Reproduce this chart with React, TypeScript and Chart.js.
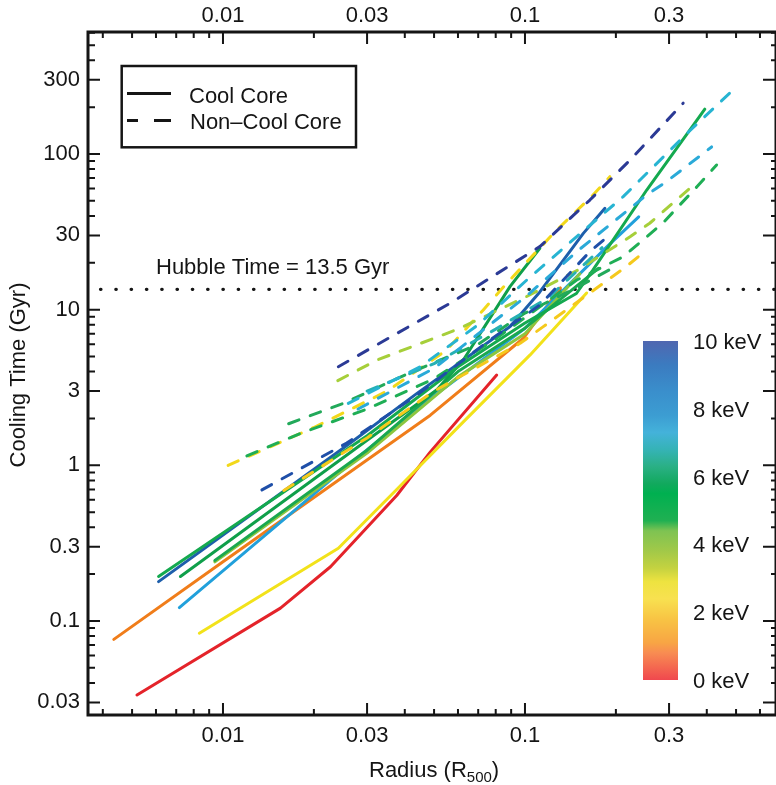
import React, { useEffect, useRef } from 'react';
import { Chart, registerables } from 'chart.js';

Chart.register(...registerables);

const FONT = "'Liberation Sans', Arial, sans-serif";
const INK = '#151515';

// Axis ranges
const X_MIN = 0.003573;
const X_MAX = 0.678;
const Y_MIN = 0.02489;
const Y_MAX = 607.7;

// Tick labels
const xTickValues = [0.01, 0.03, 0.1, 0.3];
const xTickLabels = ['0.01', '0.03', '0.1', '0.3'];
const yTickValues = [0.03, 0.1, 0.3, 1, 3, 10, 30, 100, 300];
const yTickLabels = ['0.03', '0.1', '0.3', '1', '3', '10', '30', '100', '300'];

// Hubble time
const hubbleTime = 13.5;
const hubbleR = [0.00393, 0.678];

// Colour bar ticks (keV)
const colorbarTicks = [0, 2, 4, 6, 8, 10];

// ---- Cool core (solid) profiles: radius (R500) and cooling time (Gyr)
const ccRedR = [0.00519, 0.0155, 0.0227, 0.0376, 0.0486, 0.0806];
const ccRedT = [0.0335, 0.121, 0.223, 0.64, 1.22, 3.8];
const ccOrangeR = [0.00435, 0.01, 0.0486, 0.0988, 0.131];
const ccOrangeT = [0.0762, 0.24, 2.1, 6.55, 13.8];
const ccYellowR = [0.00835, 0.0241, 0.0376, 0.0625, 0.104, 0.16];
const ccYellowT = [0.0834, 0.293, 0.7, 1.9, 5.12, 12.8];
const ccLightBlueR = [0.00717, 0.0264, 0.05, 0.1, 0.187, 0.238];
const ccLightBlueT = [0.122, 1.03, 2.8, 7.6, 25.4, 39.5];
const ccBlueR = [0.00612, 0.0264, 0.0439, 0.0893, 0.112, 0.156, 0.184];
const ccBlueT = [0.179, 1.39, 2.9, 7.8, 13, 30.9, 44.8];
const ccGreenLongR = [0.00612, 0.03, 0.06, 0.1, 0.148, 0.168, 0.253, 0.394];
const ccGreenLongT = [0.193, 1.55, 4.3, 8.2, 12.7, 18, 58.7, 194];
const ccGreenSteepR = [0.00723, 0.03, 0.051, 0.0625, 0.0893, 0.112];
const ccGreenSteepT = [0.193, 1.45, 3.05, 4.75, 14.1, 24.8];
const ccGreenShortR = [0.0094, 0.03, 0.06, 0.1, 0.175];
const ccGreenShortT = [0.245, 1.25, 4.0, 7.6, 18.4];
const ccLightGreenR = [0.0094, 0.03, 0.06, 0.1, 0.152];
const ccLightGreenT = [0.24, 1.2, 3.7, 7.0, 17];

// ---- Non-cool core (dashed) profiles
const nccNavyR = [0.0241, 0.0565, 0.112, 0.164, 0.223, 0.334];
const nccNavyT = [4.3, 11.0, 25.4, 50.6, 91.5, 212];
const nccBlueR = [0.01346, 0.0257, 0.0439, 0.075, 0.112, 0.164, 0.186];
const nccBlueT = [0.695, 1.39, 2.83, 6.2, 10.7, 23.6, 29];
const nccCyanLongR = [0.026, 0.045, 0.07, 0.1014, 0.15, 0.2115, 0.35, 0.508];
const nccCyanLongT = [2.5, 4.3, 8.0, 15.5, 30, 53.2, 140, 277];
const nccCyanR = [0.028, 0.05, 0.1, 0.15, 0.253, 0.294, 0.415];
const nccCyanT = [2.3, 4.2, 12, 24, 54.6, 66.4, 111];
const nccGreenR = [0.012, 0.018, 0.03, 0.05, 0.08, 0.1484, 0.2115, 0.2857, 0.371, 0.431];
const nccGreenT = [1.15, 1.6, 2.3, 3.6, 6.5, 15.5, 21.9, 35.9, 61.6, 85];
const nccLightGreenR = [0.024, 0.0324, 0.06, 0.1, 0.15, 0.2228, 0.2588, 0.352];
const nccLightGreenT = [3.5, 4.75, 7.5, 12, 18, 29.4, 35.9, 60.3];
const nccYellowUpperR = [0.0104, 0.02, 0.035, 0.055, 0.0729, 0.0871, 0.1274, 0.168, 0.191];
const nccYellowUpperT = [1.0, 1.75, 3.0, 5.5, 10, 14.8, 32.5, 54.5, 71.5];
const nccYellowLowerR = [0.0159, 0.03, 0.05, 0.0964, 0.115, 0.1818, 0.2164, 0.2527];
const nccYellowLowerT = [0.69, 1.5, 3.0, 6.08, 7.78, 14.8, 18.9, 24.2];
const nccGreen2R = [0.0165, 0.025, 0.04, 0.07, 0.1, 0.15, 0.2];
const nccGreen2T = [1.85, 2.5, 3.8, 6, 9.5, 14, 19];
const nccTealR = [0.03, 0.05, 0.08, 0.12, 0.18];
const nccTealT = [3.0, 4.5, 7.5, 12, 25];

type Series = { r: number[]; t: number[]; color: string; dashed: boolean };

const series: Series[] = [
  { r: nccNavyR, t: nccNavyT, color: '#2b3a95', dashed: true },
  { r: nccBlueR, t: nccBlueT, color: '#1f4fa8', dashed: true },
  { r: nccCyanLongR, t: nccCyanLongT, color: '#27b4d2', dashed: true },
  { r: nccCyanR, t: nccCyanT, color: '#2aaad8', dashed: true },
  { r: nccTealR, t: nccTealT, color: '#26b0b4', dashed: true },
  { r: nccGreenR, t: nccGreenT, color: '#1fae55', dashed: true },
  { r: nccGreen2R, t: nccGreen2T, color: '#22a95a', dashed: true },
  { r: nccLightGreenR, t: nccLightGreenT, color: '#a6cf3a', dashed: true },
  { r: nccYellowUpperR, t: nccYellowUpperT, color: '#f2d81a', dashed: true },
  { r: nccYellowLowerR, t: nccYellowLowerT, color: '#f5c91c', dashed: true },
  { r: ccGreenLongR, t: ccGreenLongT, color: '#14a94f', dashed: false },
  { r: ccGreenSteepR, t: ccGreenSteepT, color: '#0f9f4a', dashed: false },
  { r: ccGreenShortR, t: ccGreenShortT, color: '#1aa850', dashed: false },
  { r: ccLightGreenR, t: ccLightGreenT, color: '#8cc63f', dashed: false },
  { r: ccBlueR, t: ccBlueT, color: '#1d5eab', dashed: false },
  { r: ccLightBlueR, t: ccLightBlueT, color: '#21a0db', dashed: false },
  { r: ccOrangeR, t: ccOrangeT, color: '#f07d1a', dashed: false },
  { r: ccYellowR, t: ccYellowT, color: '#f2e21a', dashed: false },
  { r: ccRedR, t: ccRedT, color: '#e4232a', dashed: false },
];

const colorbarStops: [number, string][] = [
  [0, '#5067b0'],
  [0.07, '#3b7bc0'],
  [0.15, '#3a8fcc'],
  [0.22, '#3c9dd2'],
  [0.27, '#44b2da'],
  [0.32, '#35b3b6'],
  [0.37, '#2ab085'],
  [0.42, '#12a95e'],
  [0.45, '#00b050'],
  [0.53, '#20b052'],
  [0.56, '#7ec352'],
  [0.62, '#a2c948'],
  [0.67, '#c4d240'],
  [0.71, '#eee340'],
  [0.76, '#f8e150'],
  [0.82, '#f8c444'],
  [0.89, '#f8a544'],
  [0.92, '#f88c52'],
  [1, '#f0484e'],
];

function minorValues(lo: number, hi: number, majors: number[]) {
  const out: number[] = [];
  for (let e = -4; e <= 3; e++) {
    for (let m = 1; m <= 9; m++) {
      const v = m * Math.pow(10, e);
      if (v > lo && v < hi && !majors.some((M) => Math.abs(M - v) / v < 1e-6)) out.push(v);
    }
  }
  return out;
}

const decorPlugin = {
  id: 'decor',
  afterDraw(chart: any) {
    const { ctx, chartArea: a, scales } = chart;
    const xs = scales.x;
    const ys = scales.y;
    ctx.save();
    ctx.strokeStyle = INK;
    ctx.lineCap = 'butt';

    // x ticks (bottom and top), inward
    ctx.lineWidth = 2;
    const xMinor = minorValues(X_MIN, X_MAX, xTickValues);
    const drawX = (v: number, len: number) => {
      const px = xs.getPixelForValue(v);
      ctx.beginPath();
      ctx.moveTo(px, a.bottom);
      ctx.lineTo(px, a.bottom - len);
      ctx.moveTo(px, a.top);
      ctx.lineTo(px, a.top + len);
      ctx.stroke();
    };
    xTickValues.forEach((v) => drawX(v, 12));
    xMinor.forEach((v) => drawX(v, 6));

    const yMinor = minorValues(Y_MIN, Y_MAX, yTickValues);
    const drawY = (v: number, lenL: number, lenR: number) => {
      const py = ys.getPixelForValue(v);
      ctx.beginPath();
      ctx.moveTo(a.left, py);
      ctx.lineTo(a.left + lenL, py);
      ctx.moveTo(a.right, py);
      ctx.lineTo(a.right - lenR, py);
      ctx.stroke();
    };
    yTickValues.forEach((v) => drawY(v, 12, 13));
    yMinor.forEach((v) => drawY(v, 7, 5));

    // frame
    ctx.lineWidth = 3;
    ctx.strokeRect(a.left, a.top, a.right - a.left, a.bottom - a.top);

    // legend
    ctx.lineWidth = 2.5;
    ctx.strokeRect(121.7, 66, 234.3, 81.3);
    ctx.lineWidth = 3;
    ctx.beginPath();
    ctx.moveTo(127, 93.5);
    ctx.lineTo(171, 93.5);
    ctx.moveTo(127, 120.5);
    ctx.lineTo(138, 120.5);
    ctx.moveTo(154, 120.5);
    ctx.lineTo(171, 120.5);
    ctx.stroke();
    ctx.fillStyle = INK;
    ctx.font = `22px ${FONT}`;
    ctx.textAlign = 'left';
    ctx.textBaseline = 'alphabetic';
    ctx.fillText('Cool Core', 189, 102.5);
    ctx.fillText('Non\u2013Cool Core', 190, 129.3);

    // Hubble label
    ctx.fillText(`Hubble Time = ${hubbleTime} Gyr`, 156, 274);

    // colour bar
    const cbL = 643, cbR = 678, cbT = 341, cbB = 680;
    const g = ctx.createLinearGradient(0, cbT, 0, cbB);
    colorbarStops.forEach(([p, c]) => g.addColorStop(p, c));
    ctx.fillStyle = g;
    ctx.fillRect(cbL, cbT, cbR - cbL, cbB - cbT);
    ctx.fillStyle = INK;
    ctx.textBaseline = 'middle';
    colorbarTicks.forEach((k) => {
      const y = cbB + 2 - (k / 10) * (cbB - cbT);
      ctx.fillText(`${k} keV`, 693, y);
    });

    // axis titles
    ctx.save();
    ctx.translate(19, 375);
    ctx.rotate(-Math.PI / 2);
    ctx.textAlign = 'center';
    ctx.textBaseline = 'middle';
    ctx.fillText('Cooling Time (Gyr)', 0, 0);
    ctx.restore();

    ctx.textAlign = 'left';
    ctx.textBaseline = 'alphabetic';
    const main = 'Radius (R';
    let x = 369;
    ctx.font = `22px ${FONT}`;
    ctx.fillText(main, x, 776.5);
    x += ctx.measureText(main).width;
    ctx.font = `15px ${FONT}`;
    ctx.fillText('500', x, 781.5);
    x += ctx.measureText('500').width;
    ctx.font = `22px ${FONT}`;
    ctx.fillText(')', x, 776.5);

    ctx.restore();
  },
};

export default function App() {
  const ref = useRef<HTMLCanvasElement | null>(null);

  useEffect(() => {
    if (!ref.current) return;
    const datasets: any[] = series.map((s) => ({
      data: s.r.map((x, i) => ({ x, y: s.t[i] })),
      showLine: true,
      borderColor: s.color,
      backgroundColor: s.color,
      borderWidth: 3,
      pointRadius: 0,
      borderDash: s.dashed ? [11, 12] : [],
      borderCapStyle: 'round',
      borderJoinStyle: 'round',
      fill: false,
      tension: 0,
    }));
    datasets.push({
      data: hubbleR.map((x) => ({ x, y: hubbleTime })),
      showLine: true,
      borderColor: INK,
      borderWidth: 3.2,
      pointRadius: 0,
      borderDash: [0.5, 14.8],
      borderCapStyle: 'round',
      fill: false,
    });

    const tickFont = { family: FONT, size: 22 };
    const xAxis = (position: 'top' | 'bottom', pad: number, h: number) => ({
      type: 'logarithmic',
      position,
      min: X_MIN,
      max: X_MAX,
      grid: { display: false, drawTicks: false },
      border: { display: false },
      ticks: {
        autoSkip: false,
        maxRotation: 0,
        padding: pad,
        color: INK,
        font: tickFont,
        callback: (_v: any, i: number) => xTickLabels[i],
      },
      afterBuildTicks: (s: any) => {
        s.ticks = xTickValues.map((v) => ({ value: v }));
      },
      afterFit: (s: any) => {
        s.height = h;
      },
    });

    const chart = new Chart(ref.current, {
      type: 'scatter',
      data: { datasets },
      options: {
        animation: false,
        responsive: true,
        maintainAspectRatio: false,
        layout: { padding: 0 },
        plugins: { legend: { display: false }, tooltip: { enabled: false } },
        scales: {
          x: xAxis('bottom', 8, 70) as any,
          x2: xAxis('top', 3, 32) as any,
          y: {
            type: 'logarithmic',
            position: 'left',
            min: Y_MIN,
            max: Y_MAX,
            grid: { display: false, drawTicks: false },
            border: { display: false },
            ticks: {
              autoSkip: false,
              padding: 8,
              color: INK,
              font: tickFont,
              callback: (_v: any, i: number) => yTickLabels[i],
            },
            afterBuildTicks: (s: any) => {
              s.ticks = yTickValues.map((v) => ({ value: v }));
            },
            afterFit: (s: any) => {
              s.width = 88;
            },
          } as any,
        },
      },
      plugins: [decorPlugin],
    });
    return () => chart.destroy();
  }, []);

  return (
    <div style={{ position: 'absolute', left: 0, top: 0, width: 776, height: 785, background: '#fff' }}>
      <canvas ref={ref} />
    </div>
  );
}
